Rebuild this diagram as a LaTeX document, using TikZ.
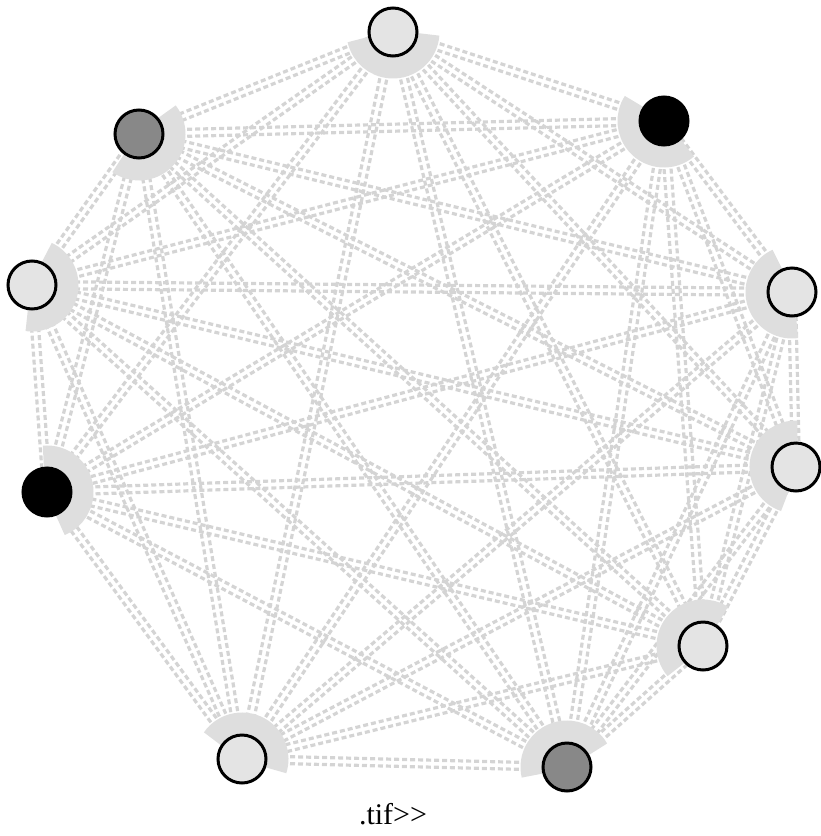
\documentclass[tikz,border=0pt]{standalone}
\usepackage{fontspec}
\setmainfont{Liberation Serif}
\usetikzlibrary{calc}
\definecolor{edgegray}{RGB}{212,212,212}
\definecolor{bandgray}{RGB}{222,222,222}
\definecolor{lightfill}{RGB}{228,228,228}
\definecolor{midfill}{RGB}{136,136,136}
\tikzset{
  vtx/.style={circle, draw=black, line width=3pt, minimum size=48pt, inner sep=0pt},
  lightv/.style={vtx, fill=lightfill},
  midv/.style={vtx, fill=midfill},
  darkv/.style={vtx, fill=black},
  edgeline/.style={draw=edgegray, line width=3.2pt, dash pattern=on 5pt off 3pt},
  band/.style={draw=bandgray, line width=21pt},
}
\begin{document}
\begin{tikzpicture}[x=1pt,y=-1pt]
\useasboundingbox (0,0) rectangle (821,836);
\coordinate (c1) at (393,32);
\coordinate (c2) at (664,121);
\coordinate (c3) at (792,292);
\coordinate (c4) at (796,467);
\coordinate (c5) at (703,646);
\coordinate (c6) at (567,767);
\coordinate (c7) at (242,759);
\coordinate (c8) at (47,492);
\coordinate (c9) at (32,285);
\coordinate (c10) at (139,134);
% edges (each pair drawn as two parallel dashed lines)
\foreach \i in {1,...,9}{
  \pgfmathtruncatemacro{\k}{\i+1}
  \foreach \j in {\k,...,10}{
    \draw[edgeline] ($(c\i)!3.5pt!90:(c\j)$) -- ($(c\j)!3.5pt!-90:(c\i)$);
    \draw[edgeline] ($(c\i)!3.5pt!-90:(c\j)$) -- ($(c\j)!3.5pt!90:(c\i)$);
  }
}
% bands
\foreach \n/\x/\y in {1/393/32,2/664/121,3/792/292,4/796/467,5/703/646,6/567/767,7/242/759,8/47/492,9/32/285,10/139/134}{
  \pgfmathsetmacro{\ang}{atan2(400-\y,420-\x)}
  \pgfmathsetmacro{\sa}{\ang-82}
  \pgfmathsetmacro{\ea}{\ang+82}
  \draw[band] (c\n) ++(\sa:36) arc[start angle=\sa, end angle=\ea, radius=36];
}
% vertices
\node[lightv] (n1) at (c1) {};
\node[darkv] (n2) at (c2) {};
\node[lightv] (n3) at (c3) {};
\node[lightv] (n4) at (c4) {};
\node[lightv] (n5) at (c5) {};
\node[midv] (n6) at (c6) {};
\node[lightv] (n7) at (c7) {};
\node[darkv] (n8) at (c8) {};
\node[lightv] (n9) at (c9) {};
\node[midv] (n10) at (c10) {};
\node (cap) at (393,814) {\fontsize{30}{32}\selectfont .tif>{}>};
\end{tikzpicture}
\end{document}
